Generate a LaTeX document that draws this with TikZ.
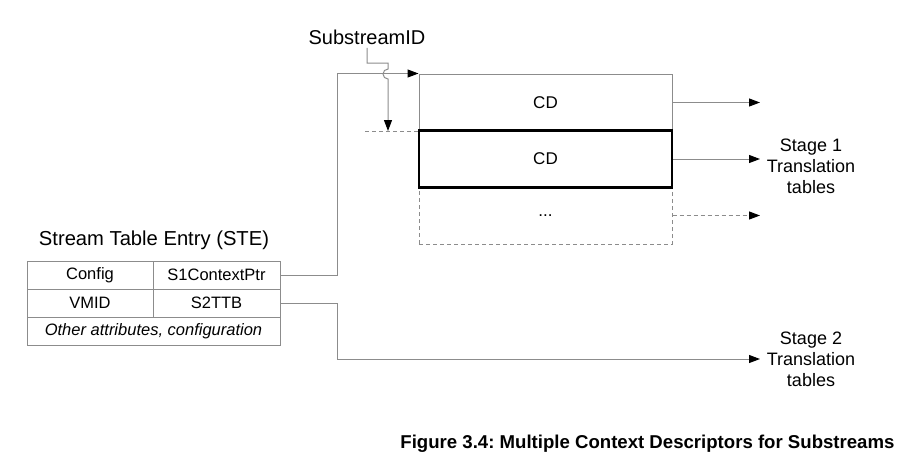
\documentclass[tikz,border=0pt]{standalone}
\usepackage{fontspec}
\setmainfont{Liberation Sans}
\usetikzlibrary{arrows.meta}
\definecolor{linegray}{RGB}{140,140,140}
\frenchspacing
\tikzset{
  cdbox/.style={draw=linegray, line width=1pt, minimum width=253pt, minimum height=57pt, inner sep=0pt, font=\fontsize{17}{20}\selectfont},
  cell/.style={draw=linegray, line width=1pt, minimum height=28pt, inner sep=0pt, font=\fontsize{16.5}{20}\selectfont},
  link/.style={draw=linegray, line width=1pt, -{Triangle[length=11pt,width=8pt,color=black]}},
  dashline/.style={dash pattern=on 4pt off 3pt},
  stagetext/.style={align=center, font=\fontsize{18}{21}\selectfont},
}
\begin{document}
\begin{tikzpicture}[x=1pt,y=-1pt]
\useasboundingbox (0,0) rectangle (916,467);
% context descriptor table
\node[cdbox] (cd1) at (545.5,102.5) {CD};
\node[cdbox, dashline] (cd3) at (545.5,215.5) {...};
\node[cdbox, draw=black, line width=2.5pt] (cd2) at (545.5,159) {CD};
% stream table entry
\node[font=\fontsize{20.2}{23}\selectfont] (stetitle) at (154,240) {Stream Table Entry (STE)};
\node[cell, minimum width=126pt] (config) at (90,275) {Config};
\node[cell, minimum width=127pt] (s1ptr) at (216.5,275) {S1ContextPtr};
\node[cell, minimum width=126pt] (vmid) at (90,303) {VMID};
\node[cell, minimum width=127pt] (s2ttb) at (216.5,303) {S2TTB};
\node[cell, minimum width=253pt, font=\fontsize{16.5}{20}\selectfont\itshape] (other) at (153.5,331) {Other attributes, configuration};
% labels
\node[font=\fontsize{20}{24}\selectfont] (sid) at (367,37) {SubstreamID};
\node[stagetext] (stage1) at (811,166) {Stage 1\\Translation\\tables};
\node[stagetext] (stage2) at (811,359) {Stage 2\\Translation\\tables};
\node[anchor=east, font=\fontsize{18.6}{22}\selectfont\bfseries] (caption) at (898,444) {Figure 3.4: Multiple Context Descriptors for Substreams};
\coordinate (out1) at (760,102.5);
\coordinate (out2) at (760,159);
\coordinate (out3) at (760,215.5);
\coordinate (out4) at (760,359);
\coordinate (cdsel) at (388,131);
\coordinate (dashstart) at (365,131);
% connectors
\draw[link] (s1ptr.east) -- ++(57,0) |- (cd1.north west);
\draw[link] (s2ttb.east) -- ++(57,0) |- (out4);
\draw[link] (cd1.east) -- (out1);
\draw[link] (cd2.east) -- (out2);
\draw[link, dashline] (cd3.east) -- (out3);
\draw[linegray, line width=1pt, dashline] (dashstart) -- (dashstart -| cd2.west);
\draw[link] (sid.south) -- (367,63) -- (388,63) -- (388,69) arc (270:90:5) -- (cdsel);
\end{tikzpicture}
\end{document}
